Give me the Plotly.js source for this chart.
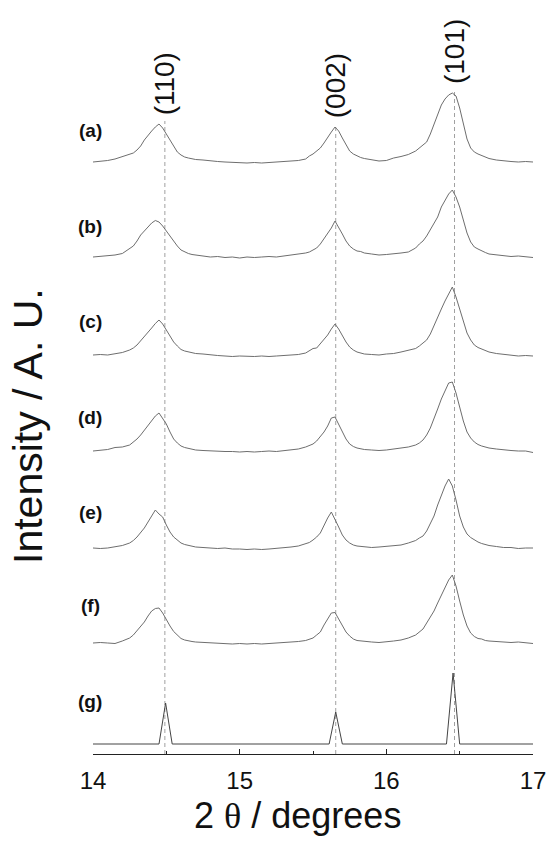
<!DOCTYPE html>
<html><head><meta charset="utf-8">
<script src="https://cdn.plot.ly/plotly-3.0.1.min.js"></script>
<style>html,body{margin:0;padding:0;background:#fff}#chart{width:550px;height:847px}</style>
</head><body><div id="chart"></div>
<script>
// ---- data (2θ in degrees, intensity in arbitrary units) ----
const twoTheta = [
  14.00,14.05,14.10,14.15,14.20,14.25,
  14.275,14.30,14.325,14.35,14.375,14.40,14.425,14.45,14.475,14.50,14.525,14.55,14.575,14.60,14.625,14.65,14.675,14.70,
  14.75,14.80,14.85,14.90,14.95,15.00,15.05,15.10,15.15,15.20,15.25,15.30,15.35,15.40,15.45,
  15.475,15.50,15.525,15.55,15.575,15.60,15.625,15.65,15.675,15.70,15.725,15.75,15.775,15.80,15.825,15.85,
  15.90,15.95,16.00,16.05,16.10,16.15,16.20,
  16.225,16.25,16.275,16.30,16.325,16.35,16.375,16.40,16.425,16.45,16.475,16.50,16.525,16.55,16.575,16.60,16.625,16.65,16.675,16.70,
  16.75,16.80,16.85,16.90,16.95,17.00
];
const seriesA = [
  8,8.5,9.5,11,13.5,15.5,
  17,20,24,30,35,39,43,46,42,36,29,23,18,15,13,12,11,10.5,
  10,9,8.5,8,7.5,7.5,7,7.5,7,7.5,8,8.5,9,9.5,11,
  14,16,19,22,27,33,38,43,39,32,26,19,16,14,12.5,11.5,
  10,9,9.5,12,13.5,15.5,19,
  22,25,28,36,46,56,65,71,75,77,74,62,46,31,22,18,16,14.5,13,11.5,
  10,9,8.5,8,8.5,8
];
const seriesB = [
  8,8.5,9,10,11.5,16,
  19,24,30,34,38,42,44.5,43,39,34,28,23,19,15,13,11.5,10.5,10,
  9,8,8.5,7.5,8,7,8,7.5,8,8.5,8,9,9.5,10.5,12,
  13,15,17,21,26,31,37,44,38,31,24,19,16,14,13.5,12,
  11,10,10.5,11,12,13,17,
  21,24,29,35,42,48,58,65,71,75,68,58,44,32,23,18,16,14,12.5,11,
  10,9,8.5,9,8,7.5
];
const seriesC = [
  8,8.5,8,9.5,10.5,13,
  15,18,22,27,31,35,39.5,43,39,33,27,21,17,13.5,12,11,10.5,9.5,
  9,8,7.5,7,6.5,7,6.5,6.5,7,6.5,7,7.5,8,8.5,10,
  12,14.5,15,19,23,28,34,39,34,27,21,16,13,11,10,9,
  8.5,8,9,9.5,11,12.5,14.5,
  17,20,23,29,38,46,54,62,69,76,66,54,40,30,23,18,15.5,14,12,11,
  9.5,8.5,8,7,7.5,7
];
const seriesD = [
  8,8.5,9.5,11.5,12,14,
  17,20,24,29,34,39,43,46,41,35,27,20,16,13,11.5,10.5,9.5,9,
  8.5,8,8,7.5,7.5,7,7.5,7,7.5,8,7.5,8.5,9,10,12,
  13.5,15,18,22,27,33,41,42,35,27,20,15,12.5,11,10,9.5,
  9,8.5,9,10,11,12,14,
  16,19,24,31,40,50,60,68,76,77,66,52,38,27,21,17,14.5,13,12,11,
  10,9,8.5,8,8,6.5
];
const seriesE = [
  8,7.5,8,9,10.5,13,
  15.5,19,23,28,34,40,46,42,39,31,24,19,15.5,13,11.5,10.5,10,9,
  8.5,8,7.5,8,7,7,6.5,7,6.5,7,7.5,8,9,10,12,
  13.5,16,19,23,31,38,44,37,29,21,16,13,11,10,9.5,9,
  8.5,9,9.5,10,11,13,15.5,
  18,20,25,32,40,51,60,70,77,70,56,40,29,22,18.5,16,14,12.5,11.5,10.5,
  9.5,8.5,8.5,7.5,8,8
];
const seriesF = [
  8,8.5,8,7.5,10,13,
  16,20,24,29,35,40,42.5,43,38,31,25,19.5,16,12.5,11,10,9.5,9,
  8.5,8,7.5,7.5,7,7.5,7,7.5,7,7.5,8,8,8.5,9.5,10.5,
  11.5,13,16,19,26,32,38,38.5,32,25,19,15,12,10.5,10,9.5,
  9,8.5,9,10,11,13,16,
  19,22,28,34,40,48,56,64,71,76,65,50,36,25,18,14.5,12.5,12,10.5,10,
  9.5,9,8.5,9,8,7.5
];
// (g) reference stick pattern
const stickX = [14.00,14.45,14.495,14.54,15.61,15.655,15.70,16.41,16.455,16.50,17.00];
const stickY = [8,8,49,8,8,40,8,8,79,8,8];

const sampleLabels = ['(a)','(b)','(c)','(d)','(e)','(f)','(g)'];
const reflections = [14.49, 15.655, 16.465];
const hklLabels = ['(110)','(002)','(101)'];
const xTickVals = [14, 15, 16, 17];
const xMinorVals = [14.5, 15.5, 16.5];

// ---- layout geometry ----
const W = 550, H = 847, M = {l:93, r:17, t:0, b:93};
const plotH = H - M.t - M.b, plotW = W - M.l - M.r;
const basePx  = [162, 257, 355, 451, 548, 643, 744];
const labelPx = [131, 226, 322, 417, 512, 605, 701];
const axisSpan = 100, baseLevel = 8;
const pyToPaper = p => (plotH - (p - M.t)) / plotH;
const pxToPaperX = p => (p - M.l) / plotW;
const domains = basePx.map(b => { const lo = pyToPaper(b + baseLevel); return [lo, lo + axisSpan / plotH]; });

const FONT = 'Liberation Sans, Arial, sans-serif';
const seriesList = [seriesA, seriesB, seriesC, seriesD, seriesE, seriesF];
const axisIds = ['y','y2','y3','y4','y5','y6','y7'];

const traces = seriesList.map((s, i) => ({
  type: 'scatter', mode: 'lines', x: twoTheta, y: s,
  xaxis: 'x', yaxis: axisIds[i],
  line: {color: '#6e6e6e', width: 1}, hoverinfo: 'skip', showlegend: false
}));
traces.push({
  type: 'scatter', mode: 'lines', x: stickX, y: stickY,
  xaxis: 'x', yaxis: 'y7',
  line: {color: '#444', width: 1}, hoverinfo: 'skip', showlegend: false
});

const layout = {
  width: W, height: H, margin: M,
  paper_bgcolor: '#fff', plot_bgcolor: 'rgba(0,0,0,0)',
  showlegend: false,
  font: {family: FONT, color: '#111'},
  xaxis: {
    range: [14, 17], anchor: 'free', position: 0,
    tickmode: 'array', tickvals: xTickVals, ticktext: xTickVals.map(String),
    ticks: 'inside', ticklen: 5, tickwidth: 1, tickcolor: '#222',
    showline: true, linecolor: '#222', linewidth: 1,
    showgrid: false, zeroline: false,
    minor: {tickmode: 'array', tickvals: xMinorVals, ticks: 'inside', ticklen: 3, tickcolor: '#222', showgrid: false},
    tickfont: {family: FONT, size: 24, color: '#111'},
    ticklabelstandoff: 5
  },
  shapes: [], annotations: []
};
axisIds.forEach((id, i) => {
  const key = id === 'y' ? 'yaxis' : 'yaxis' + id.slice(1);
  layout[key] = {domain: domains[i], range: [0, axisSpan], anchor: 'x', visible: false, fixedrange: true};
});

// dashed reflection lines and hkl labels
reflections.forEach((r, k) => {
  let vTop = 0;
  twoTheta.forEach((x, j) => { if (Math.abs(x - r) <= 0.06) vTop = Math.max(vTop, seriesA[j]); });
  const yTop = domains[0][0] + (vTop + 3) / plotH;
  layout.shapes.push({type: 'line', xref: 'x', yref: 'paper', x0: r, x1: r, y0: 0, y1: yTop,
    layer: 'below', line: {color: '#a0a0a0', width: 1, dash: '4px,3px'}});
  layout.annotations.push({xref: 'x', yref: 'paper', x: r, y: yTop + 4 / plotH,
    xanchor: 'center', yanchor: 'bottom', textangle: -90, showarrow: false,
    text: hklLabels[k], font: {family: FONT, size: 28, color: '#111'}});
});

// sample labels
sampleLabels.forEach((t, i) => {
  layout.annotations.push({xref: 'paper', yref: 'paper', x: pxToPaperX(90), y: pyToPaper(labelPx[i]),
    xanchor: 'center', yanchor: 'middle', showarrow: false,
    text: '<b>' + t + '</b>', font: {family: FONT, size: 19, color: '#111'}});
});

// axis titles
layout.annotations.push({xref: 'paper', yref: 'paper', x: pxToPaperX(28), y: pyToPaper(426),
  xanchor: 'center', yanchor: 'middle', textangle: -90, showarrow: false,
  text: 'Intensity / A. U.', font: {family: FONT, size: 41, color: '#111'}});
layout.annotations.push({xref: 'paper', yref: 'paper', x: pxToPaperX(297), y: pyToPaper(815),
  xanchor: 'center', yanchor: 'middle', showarrow: false,
  text: '2 <span style="font-family:Liberation Serif, Times New Roman, serif">θ</span> / degrees',
  font: {family: FONT, size: 36, color: '#111'}});

Plotly.newPlot('chart', traces, layout, {staticPlot: true, displayModeBar: false});
</script>
</body></html>
